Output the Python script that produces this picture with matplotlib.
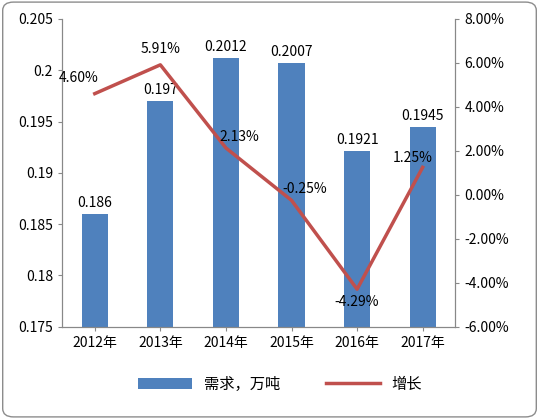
import matplotlib
matplotlib.use("Agg")
import matplotlib.pyplot as plt
from matplotlib.patches import FancyBboxPatch

plt.rcParams['font.family'] = ['Noto Sans CJK SC', 'DejaVu Sans']

years = ["2012年", "2013年", "2014年", "2015年", "2016年", "2017年"]
demand = [0.186, 0.197, 0.2012, 0.2007, 0.1921, 0.1945]
demand_labels = ["0.186", "0.197", "0.2012", "0.2007", "0.1921", "0.1945"]
growth = [4.60, 5.91, 2.13, -0.25, -4.29, 1.25]

fig = plt.figure(figsize=(5.39, 4.19), dpi=100)
fig.patch.set_alpha(0)
fig.patches.append(FancyBboxPatch((0.005, 0.005), 0.99, 0.99, boxstyle="round,pad=0,rounding_size=0.02",
                                  transform=fig.transFigure, fc="white", ec="#8c8c8c", lw=1, zorder=-10))
ax = fig.add_axes([0.115, 0.22, 0.73, 0.735])
ax.patch.set_alpha(0)
x = range(len(years))
bars = ax.bar(x, [d - 0.175 for d in demand], bottom=0.175, width=0.4, color="#4F81BD", label="需求，万吨")
ax.set_ylim(0.175, 0.205)
ax.set_xlim(-0.5, 5.5)
ax.set_yticks([0.175, 0.18, 0.185, 0.19, 0.195, 0.2, 0.205])
ax.set_yticklabels(["0.175", "0.18", "0.185", "0.19", "0.195", "0.2", "0.205"])
ax.set_xticks(list(x))
ax.set_xticklabels(years)
for i, (d, t) in enumerate(zip(demand, demand_labels)):
    ax.text(i, d + 0.0004, t, ha="center", va="bottom", fontsize=10)

ax2 = ax.twinx()
line, = ax2.plot(list(x), growth, color="#C0504D", lw=2.5, label="增长")
ax2.set_ylim(-6, 8)
ax2.set_yticks(range(-6, 9, 2))
ax2.set_yticklabels([f"{v:.2f}%" for v in range(-6, 9, 2)])
offs = [(-0.25, 0.4), (0, 0.4), (0.2, 0.2), (0.2, 0.2), (0, -0.9), (-0.15, 0.1)]
for i, (g, (dx, dy)) in enumerate(zip(growth, offs)):
    ax2.text(i + dx, g + dy, f"{g:.2f}%", ha="center", va="bottom", fontsize=10)

for a in (ax, ax2):
    a.tick_params(labelsize=10, length=3, color="#888888")
    for s in a.spines.values():
        s.set_color("#888888")
ax.spines['top'].set_visible(False)
ax2.spines['top'].set_visible(False)

fig.legend([bars, line], ["需求，万吨", "增长"], loc="lower center", bbox_to_anchor=(0.52, 0.03),
           ncol=2, frameon=False, fontsize=11, handlelength=3.5, columnspacing=3)
fig.savefig("out.png", dpi=100, facecolor="white")
